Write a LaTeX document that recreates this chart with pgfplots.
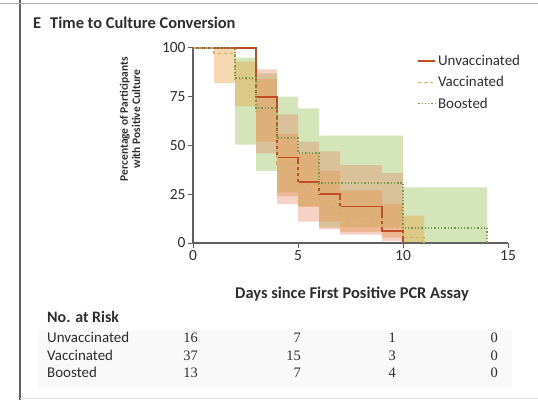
\documentclass[border=0pt]{standalone}
\usepackage{fontspec}
\setmainfont{Carlito}
\newfontfamily\numfont{Liberation Serif}
\usepackage{pgfplots}
\pgfplotsset{compat=1.18}
\usepgfplotslibrary{fillbetween}

\definecolor{unv}{RGB}{192,76,40}
\definecolor{vac}{RGB}{214,176,104}
\definecolor{boo}{RGB}{112,152,78}
\definecolor{unvband}{RGB}{228,128,98}
\definecolor{vacband}{RGB}{234,162,66}
\definecolor{booband}{RGB}{160,200,100}
\definecolor{axgray}{RGB}{95,95,95}
\definecolor{txt}{RGB}{45,45,45}

\begin{document}
\begin{tikzpicture}
\begin{scope}[x=1bp,y=1bp]
\path[use as bounding box] (0,0) rectangle (538,400);
% frame
\draw[axgray, line width=1.8bp] (20,0) -- (20,400);
\draw[gray!60, line width=1.2bp] (0,396.5) -- (538,396.5);
\draw[gray!25, line width=1bp] (20,1.5) -- (538,1.5);
% title
\node[anchor=base west, inner sep=0, text=txt, font=\fontsize{16.5}{18}\selectfont\bfseries] at (33,372) {E\hspace{9bp}Time to Culture Conversion};
% table background
\fill[gray!5] (38,11) rectangle (512,70);
\end{scope}

\begin{axis}[
  at={(193bp,157bp)}, anchor=south west,
  scale only axis, width=315bp, height=195bp,
  xmin=0, xmax=15, ymin=0, ymax=100,
  axis lines=left,
  axis line style={-, draw=axgray, line width=1.3bp},
  xtick={0,5,10,15}, ytick={0,25,50,75,100},
  tick align=outside, major tick length=5bp,
  tick style={axgray, line width=1bp},
  /pgf/number format/assume math mode=true,
  tick label style={font=\fontsize{15.5}{15}\selectfont, text=txt},
  yticklabel style={xshift=1bp},
  xticklabel style={yshift=1bp},
  legend style={draw=none, fill=none, at={(0.712,0.975)}, anchor=north west,
    font=\fontsize{15}{17}\selectfont, text=txt, row sep=5.5bp,
    inner sep=0pt},
  legend cell align=left,
]
% ---- confidence bands ----
\addplot[name path=bu, draw=none, const plot, forget plot] coordinates
  {(2,95) (3,87) (4,75) (5,69) (6,55) (10,28.5) (14,28.5)};
\addplot[name path=bl, draw=none, const plot, forget plot] coordinates
  {(2,50.4) (3,37) (4,26) (5,19) (6,8) (10,0.5) (14,0.5)};
\addplot[booband, fill opacity=0.45, draw=none, forget plot] fill between[of=bu and bl];

\addplot[name path=vu, draw=none, const plot, forget plot] coordinates
  {(1,99.6) (2,93) (3,84) (4,56) (5,46) (6,37) (7,27) (9,20) (10,14) (11,14)};
\addplot[name path=vl, draw=none, const plot, forget plot] coordinates
  {(1,82) (2,70) (3,52) (4,24) (5,18.5) (6,11) (7,5.6) (9,2.7) (10,0.4) (11,0.4)};
\addplot[vacband, fill opacity=0.42, draw=none, forget plot] fill between[of=vu and vl];

\addplot[name path=uu, draw=none, const plot, forget plot] coordinates
  {(3,89) (4,66) (5,52) (6,47) (7,40) (9,36) (10,36)};
\addplot[name path=ul, draw=none, const plot, forget plot] coordinates
  {(3,46) (4,20) (5,11) (6,7) (7,4.3) (9,0.9) (10,0.9)};
\addplot[unvband, fill opacity=0.36, draw=none, forget plot] fill between[of=uu and ul];

% ---- Kaplan-Meier curves ----
\addplot[unv, line width=1.6bp, const plot] coordinates
  {(0,100) (3,75) (4,43.75) (5,31.25) (6,25) (7,18.75) (9,6.25) (10,0)};
\addlegendentry{Unvaccinated}
\addplot[vac, line width=1.3bp, dashed, const plot] coordinates
  {(0,100) (1,97.3) (2,83.8) (3,67.6) (4,40.5) (5,29.7) (6,21.6) (7,13.5) (9,8.1) (10,2.7) (11,0)};
\addlegendentry{Vaccinated}
\addplot[boo, line width=1.3bp, dotted, const plot] coordinates
  {(0,100) (2,84.6) (3,69.2) (4,53.8) (5,46.2) (6,30.8) (10,7.7) (14,7.7) (14,0)};
\addlegendentry{Boosted}
\end{axis}

\begin{scope}[x=1bp,y=1bp]
% axis labels
\node[anchor=base, inner sep=0, text=txt, font=\fontsize{16.5}{18}\selectfont\bfseries] at (352,102) {Days since First Positive PCR Assay};
\node[rotate=90, align=center, inner sep=0, text=txt, font=\fontsize{11.5}{12.5}\selectfont\bfseries] at (130,281) {Percentage of Participants\\with Positive Culture};

% number at risk table
\node[anchor=base west, inner sep=0, text=txt, font=\fontsize{16}{18}\selectfont\bfseries] at (47,78) {No. at Risk};
\begin{scope}[every node/.style={inner sep=0, text=txt, font=\fontsize{15}{17}\selectfont}]
\node[anchor=base west] at (47,58) {Unvaccinated};
\node[anchor=base west] at (47,40) {Vaccinated};
\node[anchor=base west] at (47,22.5) {Boosted};
\end{scope}
\begin{scope}[every node/.style={inner sep=0, text=txt, anchor=base east, font=\numfont\fontsize{14.5}{17}\selectfont}]
\node at (198,58) {16}; \node at (301,58) {7};  \node at (396,58) {1}; \node at (498,58) {0};
\node at (198,40) {37}; \node at (301,40) {15}; \node at (396,40) {3}; \node at (498,40) {0};
\node at (198,22.5) {13}; \node at (301,22.5) {7};  \node at (396,22.5) {4}; \node at (498,22.5) {0};
\end{scope}
\end{scope}
\end{tikzpicture}
\end{document}
